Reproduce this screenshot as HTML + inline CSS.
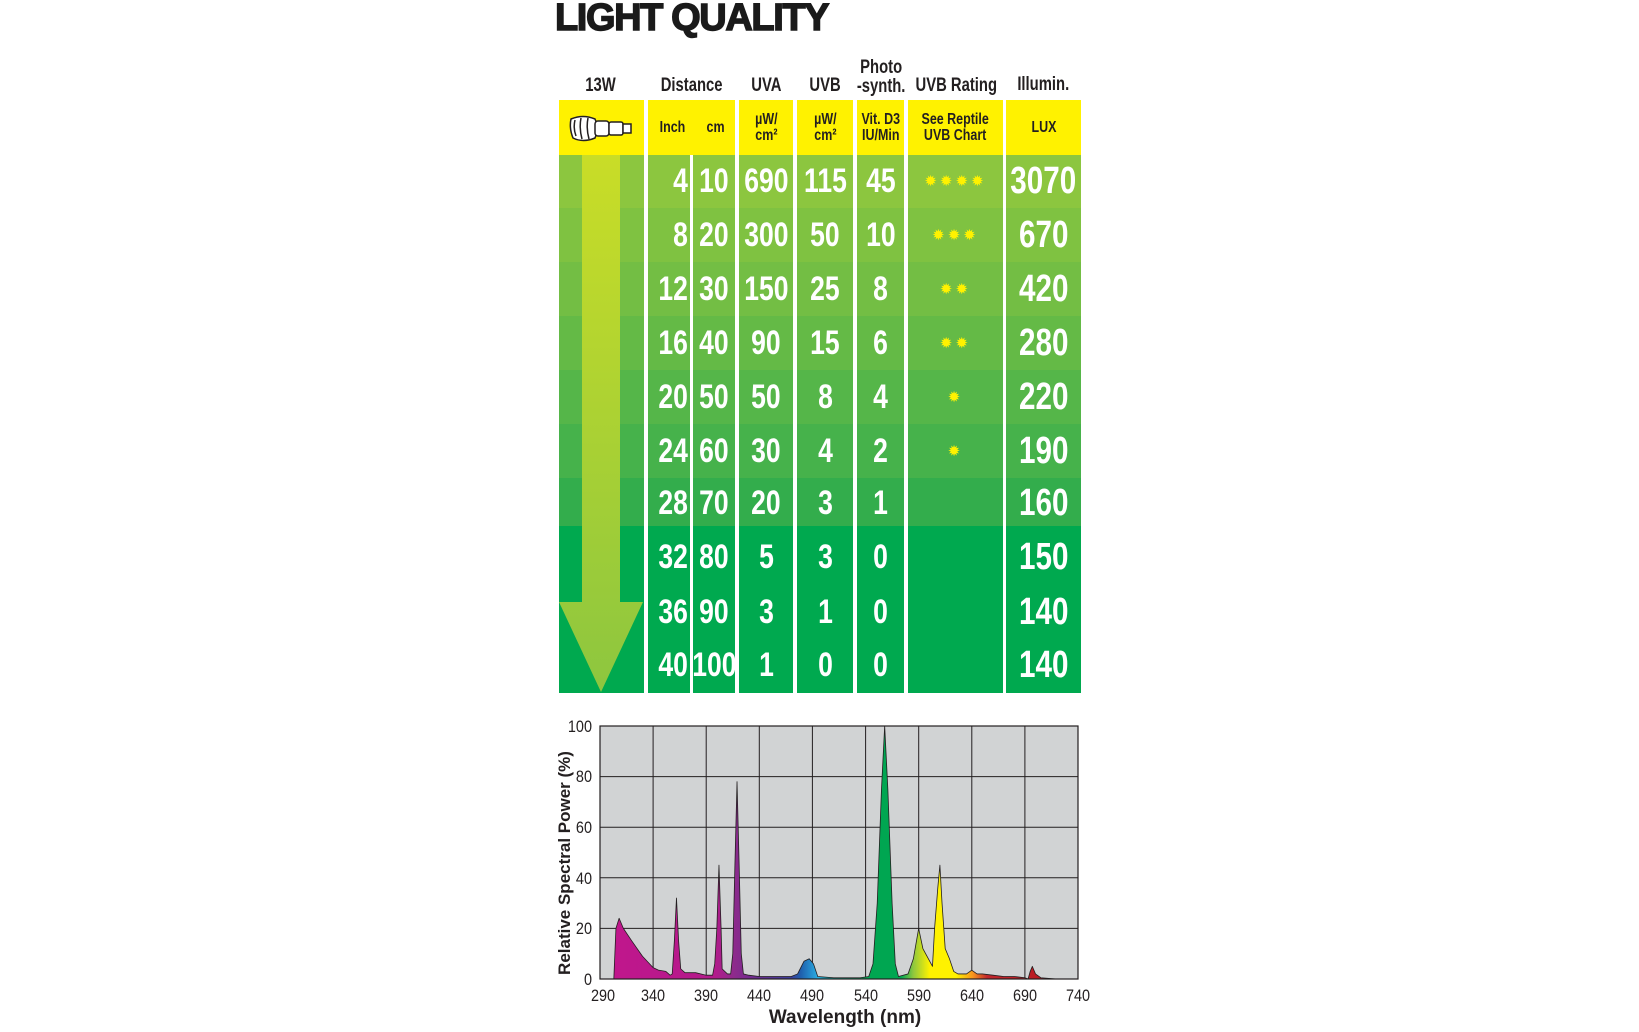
<!DOCTYPE html>
<html><head><meta charset="utf-8">
<style>
body{margin:0;width:1639px;height:1032px;background:#fff;position:relative;overflow:hidden;font-family:"Liberation Sans",sans-serif}
.a{position:absolute}
.t{position:absolute;left:555px;top:-3px;font-family:"Liberation Sans",sans-serif;font-weight:900;font-size:38px;color:#1a1a1a;letter-spacing:-1.4px;-webkit-text-stroke:1.4px #1a1a1a;white-space:nowrap}
.h{position:absolute;font-weight:bold;font-size:19px;color:#231f20;text-align:center;line-height:19px;white-space:nowrap}
.h span,.y span,.c span{display:inline-block;transform:scaleX(.78)}
.y{position:absolute;top:100px;height:55px;background:#fff200;font-weight:bold;font-size:16px;color:#231f20;display:flex;align-items:center;justify-content:center;text-align:center;line-height:16px;white-space:nowrap}
.c{position:absolute;color:#fff;font-weight:bold;font-size:34px;display:flex;align-items:center;justify-content:center;white-space:nowrap}
.r span{transform-origin:100% 50%}
.l{font-size:38px}
.st{color:#fff200;font-size:15px;letter-spacing:3px;font-family:"DejaVu Sans",sans-serif}
</style></head><body>
<div class="t">LIGHT QUALITY</div>
<div class="h" style="left:561px;width:80px;top:76px"><span>13W</span></div>
<div class="h" style="left:648px;width:87px;top:76px"><span>Distance</span></div>
<div class="h" style="left:739px;width:54px;top:76px"><span>UVA</span></div>
<div class="h" style="left:797px;width:56px;top:76px"><span>UVB</span></div>
<div class="h" style="left:845px;width:72px;top:58px"><span>Photo<br>-synth.</span></div>
<div class="h" style="left:896px;width:120px;top:76px"><span>UVB Rating</span></div>
<div class="h" style="left:1000px;width:87px;top:75px"><span>Illumin.</span></div>

<div class="y" style="left:559px;width:85px">
<svg width="70" height="34" viewBox="0 0 70 34"><g fill="#fff" stroke="#231f20" stroke-width="1.5"><path d="M4 8 Q2 17 6 27 Q16 32 28 27 Q32 17 28 8 Q16 3 4 8Z"/><path d="M8 9 Q6 17 9 25 M14 7 Q12 17 15 28 M21 7 Q19 17 22 28"/><rect x="28" y="10" width="14" height="15" rx="3"/><rect x="42" y="11" width="14" height="13" rx="2"/><path d="M56 13 h8 v9 h-8z"/></g></svg></div>
<div class="y" style="left:648px;width:87px;justify-content:space-around">
<span>Inch</span><span>cm</span></div>
<div class="y" style="left:739px;width:54px"><span>µW/<br>cm²</span></div>
<div class="y" style="left:797px;width:56px"><span>µW/<br>cm²</span></div>
<div class="y" style="left:857px;width:47px"><span>Vit. D3<br>IU/Min</span></div>
<div class="y" style="left:908px;width:95px"><span>See Reptile<br>UVB Chart</span></div>
<div class="y" style="left:1006px;width:75px"><span>LUX</span></div>

<svg class="a" style="left:0;top:0" width="1639" height="1032">
<defs>
<linearGradient id="ar" x1="0" y1="154" x2="0" y2="692" gradientUnits="userSpaceOnUse">
<stop offset="0" stop-color="#c9dd27"/><stop offset="1" stop-color="#8dc63f"/></linearGradient>
</defs>
<g>
<rect x="559" y="155" width="522" height="53" fill="#8cc63f"/>
<rect x="559" y="208" width="522" height="54" fill="#7fc241"/>
<rect x="559" y="262" width="522" height="54" fill="#73be44"/>
<rect x="559" y="316" width="522" height="54" fill="#64ba46"/>
<rect x="559" y="370" width="522" height="54" fill="#55b649"/>
<rect x="559" y="424" width="522" height="54" fill="#46b24b"/>
<rect x="559" y="478" width="522" height="48" fill="#33ad4c"/>
<rect x="559" y="526" width="522" height="167" fill="#00a94f"/>
</g>
<g fill="#fff">
<rect x="644" y="100" width="4" height="594"/>
<rect x="690" y="155" width="3" height="539"/>
<rect x="735" y="100" width="4" height="594"/>
<rect x="793" y="100" width="4" height="594"/>
<rect x="853" y="100" width="4" height="594"/>
<rect x="904" y="100" width="4" height="594"/>
<rect x="1003" y="100" width="3" height="594"/>
</g>
<polygon fill="url(#ar)" points="582,155 620,155 620,602 643,602 601,692 559,602 582,602"/>
</svg>

<div class="c r" style="left:648px;width:40px;top:154px;height:54px;justify-content:flex-end"><span>4</span></div>
<div class="c" style="left:693px;width:42px;top:154px;height:54px"><span>10</span></div>
<div class="c" style="left:739px;width:54px;top:154px;height:54px"><span>690</span></div>
<div class="c" style="left:797px;width:56px;top:154px;height:54px"><span>115</span></div>
<div class="c" style="left:857px;width:47px;top:154px;height:54px"><span>45</span></div>
<div class="c st" style="left:908px;width:95px;top:154px;height:54px">✹✹✹✹</div>
<div class="c l" style="left:1006px;width:75px;top:154px;height:54px"><span>3070</span></div>

<div class="c r" style="left:648px;width:40px;top:208px;height:54px;justify-content:flex-end"><span>8</span></div>
<div class="c" style="left:693px;width:42px;top:208px;height:54px"><span>20</span></div>
<div class="c" style="left:739px;width:54px;top:208px;height:54px"><span>300</span></div>
<div class="c" style="left:797px;width:56px;top:208px;height:54px"><span>50</span></div>
<div class="c" style="left:857px;width:47px;top:208px;height:54px"><span>10</span></div>
<div class="c st" style="left:908px;width:95px;top:208px;height:54px">✹✹✹</div>
<div class="c l" style="left:1006px;width:75px;top:208px;height:54px"><span>670</span></div>

<div class="c r" style="left:648px;width:40px;top:262px;height:54px;justify-content:flex-end"><span>12</span></div>
<div class="c" style="left:693px;width:42px;top:262px;height:54px"><span>30</span></div>
<div class="c" style="left:739px;width:54px;top:262px;height:54px"><span>150</span></div>
<div class="c" style="left:797px;width:56px;top:262px;height:54px"><span>25</span></div>
<div class="c" style="left:857px;width:47px;top:262px;height:54px"><span>8</span></div>
<div class="c st" style="left:908px;width:95px;top:262px;height:54px">✹✹</div>
<div class="c l" style="left:1006px;width:75px;top:262px;height:54px"><span>420</span></div>

<div class="c r" style="left:648px;width:40px;top:316px;height:54px;justify-content:flex-end"><span>16</span></div>
<div class="c" style="left:693px;width:42px;top:316px;height:54px"><span>40</span></div>
<div class="c" style="left:739px;width:54px;top:316px;height:54px"><span>90</span></div>
<div class="c" style="left:797px;width:56px;top:316px;height:54px"><span>15</span></div>
<div class="c" style="left:857px;width:47px;top:316px;height:54px"><span>6</span></div>
<div class="c st" style="left:908px;width:95px;top:316px;height:54px">✹✹</div>
<div class="c l" style="left:1006px;width:75px;top:316px;height:54px"><span>280</span></div>

<div class="c r" style="left:648px;width:40px;top:370px;height:54px;justify-content:flex-end"><span>20</span></div>
<div class="c" style="left:693px;width:42px;top:370px;height:54px"><span>50</span></div>
<div class="c" style="left:739px;width:54px;top:370px;height:54px"><span>50</span></div>
<div class="c" style="left:797px;width:56px;top:370px;height:54px"><span>8</span></div>
<div class="c" style="left:857px;width:47px;top:370px;height:54px"><span>4</span></div>
<div class="c st" style="left:908px;width:95px;top:370px;height:54px">✹</div>
<div class="c l" style="left:1006px;width:75px;top:370px;height:54px"><span>220</span></div>

<div class="c r" style="left:648px;width:40px;top:424px;height:54px;justify-content:flex-end"><span>24</span></div>
<div class="c" style="left:693px;width:42px;top:424px;height:54px"><span>60</span></div>
<div class="c" style="left:739px;width:54px;top:424px;height:54px"><span>30</span></div>
<div class="c" style="left:797px;width:56px;top:424px;height:54px"><span>4</span></div>
<div class="c" style="left:857px;width:47px;top:424px;height:54px"><span>2</span></div>
<div class="c st" style="left:908px;width:95px;top:424px;height:54px">✹</div>
<div class="c l" style="left:1006px;width:75px;top:424px;height:54px"><span>190</span></div>

<div class="c r" style="left:648px;width:40px;top:476px;height:54px;justify-content:flex-end"><span>28</span></div>
<div class="c" style="left:693px;width:42px;top:476px;height:54px"><span>70</span></div>
<div class="c" style="left:739px;width:54px;top:476px;height:54px"><span>20</span></div>
<div class="c" style="left:797px;width:56px;top:476px;height:54px"><span>3</span></div>
<div class="c" style="left:857px;width:47px;top:476px;height:54px"><span>1</span></div>
<div class="c l" style="left:1006px;width:75px;top:476px;height:54px"><span>160</span></div>

<div class="c r" style="left:648px;width:40px;top:530px;height:54px;justify-content:flex-end"><span>32</span></div>
<div class="c" style="left:693px;width:42px;top:530px;height:54px"><span>80</span></div>
<div class="c" style="left:739px;width:54px;top:530px;height:54px"><span>5</span></div>
<div class="c" style="left:797px;width:56px;top:530px;height:54px"><span>3</span></div>
<div class="c" style="left:857px;width:47px;top:530px;height:54px"><span>0</span></div>
<div class="c l" style="left:1006px;width:75px;top:530px;height:54px"><span>150</span></div>

<div class="c r" style="left:648px;width:40px;top:585px;height:54px;justify-content:flex-end"><span>36</span></div>
<div class="c" style="left:693px;width:42px;top:585px;height:54px"><span>90</span></div>
<div class="c" style="left:739px;width:54px;top:585px;height:54px"><span>3</span></div>
<div class="c" style="left:797px;width:56px;top:585px;height:54px"><span>1</span></div>
<div class="c" style="left:857px;width:47px;top:585px;height:54px"><span>0</span></div>
<div class="c l" style="left:1006px;width:75px;top:585px;height:54px"><span>140</span></div>

<div class="c r" style="left:648px;width:40px;top:638px;height:54px;justify-content:flex-end"><span>40</span></div>
<div class="c" style="left:693px;width:42px;top:638px;height:54px"><span>100</span></div>
<div class="c" style="left:739px;width:54px;top:638px;height:54px"><span>1</span></div>
<div class="c" style="left:797px;width:56px;top:638px;height:54px"><span>0</span></div>
<div class="c" style="left:857px;width:47px;top:638px;height:54px"><span>0</span></div>
<div class="c l" style="left:1006px;width:75px;top:638px;height:54px"><span>140</span></div>

<svg class="a" style="left:0;top:0" width="1639" height="1032">
<defs>
<linearGradient id="sp" x1="0" y1="0" x2="450" y2="0" gradientUnits="userSpaceOnUse">
<stop offset="0" stop-color="#c2168c"/>
<stop offset="0.24" stop-color="#b31a8b"/>
<stop offset="0.28" stop-color="#8e2a8c"/>
<stop offset="0.33" stop-color="#6a2c90"/>
<stop offset="0.40" stop-color="#3a3f9c"/>
<stop offset="0.42" stop-color="#1f5fad"/>
<stop offset="0.455" stop-color="#29abe2"/>
<stop offset="0.49" stop-color="#00a99d"/>
<stop offset="0.555" stop-color="#00a651"/>
<stop offset="0.63" stop-color="#00a651"/>
<stop offset="0.655" stop-color="#8dc63f"/>
<stop offset="0.69" stop-color="#fff200"/>
<stop offset="0.745" stop-color="#fff200"/>
<stop offset="0.78" stop-color="#f7941d"/>
<stop offset="0.81" stop-color="#c1272d"/>
<stop offset="1" stop-color="#b5121b"/>
</linearGradient>
</defs>
<rect x="600" y="726" width="478" height="253" fill="#d1d3d4"/>
<g stroke="#231f20" stroke-width="1">
<line x1="653.1" y1="726" x2="653.1" y2="979"/><line x1="706.2" y1="726" x2="706.2" y2="979"/>
<line x1="759.3" y1="726" x2="759.3" y2="979"/><line x1="812.4" y1="726" x2="812.4" y2="979"/>
<line x1="865.6" y1="726" x2="865.6" y2="979"/><line x1="918.7" y1="726" x2="918.7" y2="979"/>
<line x1="971.8" y1="726" x2="971.8" y2="979"/><line x1="1024.9" y1="726" x2="1024.9" y2="979"/>
<line x1="600" y1="776.6" x2="1078" y2="776.6"/><line x1="600" y1="827.2" x2="1078" y2="827.2"/>
<line x1="600" y1="877.8" x2="1078" y2="877.8"/><line x1="600" y1="928.4" x2="1078" y2="928.4"/>
</g>
<g transform="translate(600,979) scale(1.0622,-2.53)">
<polygon fill="url(#sp)" stroke="#231f20" stroke-width="0.8" vector-effect="non-scaling-stroke" stroke-linejoin="round"
points="13,0 15,20 18,24 22,20 30,15 40,9 50,4.5 55,3.5 62,3 66,1.5 68,2 70,15 72,32 74,15 76,4 80,2.5 90,2.5 100,1.5 106,1.5 108,6 110,20 112,45 114,20 115,4 120,2 123,2 125,10 127,45 129,78 131,45 133,10 135,2 140,1.5 150,1 180,1 186,2 192,7 197,8 201,6 205,1 220,0.5 245,0.5 253,1 257,6 261,30 265,75 268,100 271,75 275,30 278,6 281,1 290,2 295,8 300,20 304,12 313,5 315,20 318,36 320,45 322,30 325,12 329,8 333,3 337,2 345,2 350,3.5 355,2 360,2 370,1.5 380,1 390,1 400,0.5 403,0 405,3 407,5 410,2 415,0.5 430,0 450,0"/>
</g>
<rect x="600" y="726" width="478" height="253" fill="none" stroke="#231f20" stroke-width="1.2"/>
<g font-family="Liberation Sans, sans-serif" font-size="17" fill="#231f20">
<g text-anchor="end" transform="translate(592,0) scale(0.85,1)"><text x="0" y="732">100</text><text x="0" y="782">80</text><text x="0" y="833">60</text><text x="0" y="884">40</text><text x="0" y="934">20</text><text x="0" y="985">0</text></g>
<g text-anchor="middle">
<text transform="translate(603,1001) scale(0.85,1)">290</text>
<text transform="translate(653,1001) scale(0.85,1)">340</text>
<text transform="translate(706,1001) scale(0.85,1)">390</text>
<text transform="translate(759,1001) scale(0.85,1)">440</text>
<text transform="translate(812,1001) scale(0.85,1)">490</text>
<text transform="translate(866,1001) scale(0.85,1)">540</text>
<text transform="translate(919,1001) scale(0.85,1)">590</text>
<text transform="translate(972,1001) scale(0.85,1)">640</text>
<text transform="translate(1025,1001) scale(0.85,1)">690</text>
<text transform="translate(1078,1001) scale(0.85,1)">740</text></g>
</g>
<text x="845" y="1023" text-anchor="middle" font-family="Liberation Sans, sans-serif" font-weight="bold" font-size="19" fill="#231f20">Wavelength (nm)</text>
<text transform="translate(570,863) rotate(-90)" text-anchor="middle" font-family="Liberation Sans, sans-serif" font-weight="bold" font-size="17" fill="#231f20">Relative Spectral Power (%)</text>
</svg>
</body></html>
